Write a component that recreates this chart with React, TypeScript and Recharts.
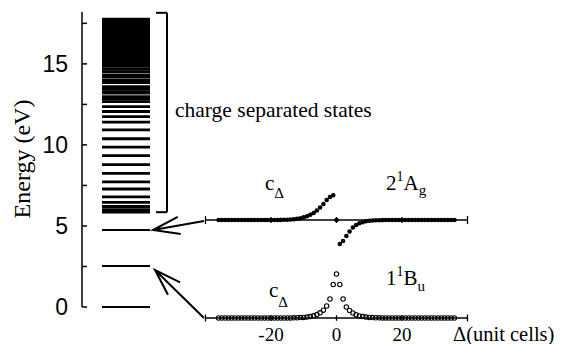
import React from 'react';
import {
  ScatterChart,
  Scatter,
  XAxis,
  YAxis,
  ReferenceLine,
  ReferenceArea,
} from 'recharts';

// ---------- data ----------
const energyTicks = [0, 2.5, 5, 7.5, 10, 12.5, 15, 17.5];
const boundLevels = [0, 2.53, 4.75];
const chargeSeparatedLevels = [
  5.85, 6.0, 6.2, 6.45, 6.8, 7.28, 7.72, 8.25, 8.78, 9.34, 9.86, 10.38, 10.93,
  11.4, 11.75, 12.06, 12.36, 12.67, 12.82, 12.98, 13.19, 13.29, 13.44, 13.6,
  13.85, 14.0, 14.18, 14.32, 14.52, 14.67, 14.84,
];
const continuumBand = [14.9, 17.85];
const bracketRange = [5.85, 18.15];

const deltaCells = [
  -36, -35, -34, -33, -32, -31, -30, -29, -28, -27, -26, -25, -24, -23, -22, -21,
  -20, -19, -18, -17, -16, -15, -14, -13, -12, -11, -10, -9, -8, -7, -6, -5, -4,
  -3, -2, -1, 0, 1, 2, 3, 4, 5, 6, 7, 8, 9, 10, 11, 12, 13, 14, 15, 16, 17, 18,
  19, 20, 21, 22, 23, 24, 25, 26, 27, 28, 29, 30, 31, 32, 33, 34, 35, 36,
];
// 2^1A_g amplitude
const cAg = [
  0, 0, 0, 0, 0, 0, 0, 0, 0, 0, 0, 0, 0, 0, 0, 0, 0, 0,
  0.0005, 0.001, 0.002, 0.003, 0.005, 0.008, 0.012, 0.018, 0.027, 0.038, 0.052,
  0.07, 0.095, 0.125, 0.16, 0.2, 0.23, 0.247,
  0,
  -0.24, -0.21, -0.16, -0.115, -0.075, -0.05, -0.033, -0.022, -0.013, -0.008,
  -0.005, -0.003, -0.002, -0.001,
  0, 0, 0, 0, 0, 0, 0, 0, 0, 0, 0, 0, 0, 0, 0, 0, 0, 0, 0, 0, 0, 0,
];
// 1^1B_u amplitude
const cBu = [
  0, 0, 0, 0, 0, 0, 0, 0, 0, 0, 0, 0, 0, 0, 0, 0, 0, 0, 0, 0, 0,
  0.0005, 0.001, 0.0015, 0.0025, 0.004, 0.006, 0.009, 0.014, 0.022, 0.034,
  0.052, 0.078, 0.12, 0.19, 0.335,
  0.44,
  0.335, 0.19, 0.11, 0.075, 0.05, 0.033, 0.021, 0.014, 0.009, 0.006, 0.004,
  0.0025, 0.0015, 0.001, 0.0005,
  0, 0, 0, 0, 0, 0, 0, 0, 0, 0, 0, 0, 0, 0, 0, 0, 0, 0, 0, 0, 0,
];
const deltaTicks = [-40, -20, 0, 20, 40];
const deltaTickLabels = ['', '-20', '0', '20', ''];

// ---------- layout constants ----------
const SERIF = 'Liberation Serif, Times New Roman, serif';
const SANS = 'Liberation Sans, Arial, sans-serif';
const LEVEL_CENTER = 44; // horizontal slot of the level ladder (in hidden x units)
const LEVEL_HALF = 24;
const BRACKET_X: [number, number] = [74, 85];

const boundData = boundLevels.map((e) => ({ pos: LEVEL_CENTER, energy: e }));
const csData = chargeSeparatedLevels.map((e) => ({ pos: LEVEL_CENTER, energy: e }));
const agData = deltaCells.map((d, i) => ({ delta: d, c: cAg[i] }));
const buData = deltaCells.map((d, i) => ({ delta: d, c: cBu[i] }));

const EnergyTick = (props: any) => {
  const { x, y, payload } = props;
  const v = payload.value;
  const axisX = x + 14;
  return (
    <g>
      <line x1={axisX} x2={axisX + 5} y1={y} y2={y} stroke="#000" strokeWidth={1.5} />
      {v % 5 === 0 && (
        <text x={x} y={y} dy="0.36em" textAnchor="end" fontFamily={SANS} fontSize={23} fill="#000">
          {v}
        </text>
      )}
    </g>
  );
};

const DeltaTick = (props: any) => {
  const { x, y, payload } = props;
  const v = payload.value;
  const idx = deltaTicks.indexOf(v);
  const end = idx === 0 || idx === deltaTicks.length - 1;
  const h = end ? 3.5 : 2.8;
  const label = deltaTickLabels[idx];
  return (
    <g>
      <line x1={x} x2={x} y1={y - h} y2={y + h} stroke="#000" strokeWidth={1.3} />
      {label && (
        <text x={x} y={y + 23} textAnchor="middle" fontFamily={SERIF} fontSize={19} fill="#000">
          {label}
        </text>
      )}
    </g>
  );
};

const thinLevel = (p: any) => (
  <line x1={p.cx - LEVEL_HALF} x2={p.cx + LEVEL_HALF} y1={p.cy} y2={p.cy} stroke="#000" strokeWidth={1.8} />
);
const thickLevel = (p: any) => (
  <line x1={p.cx - LEVEL_HALF} x2={p.cx + LEVEL_HALF} y1={p.cy} y2={p.cy} stroke="#000" strokeWidth={2.8} />
);
const filledDot = (p: any) => <circle cx={p.cx} cy={p.cy} r={2.3} fill="#000" />;
const openDot = (p: any) => (
  <circle cx={p.cx} cy={p.cy} r={2.2} fill="none" stroke="#000" strokeWidth={1.1} />
);

function arrowPath(tip: [number, number], tail: [number, number], len: number, angDeg: number) {
  const dx = tail[0] - tip[0];
  const dy = tail[1] - tip[1];
  const L = Math.hypot(dx, dy);
  const ux = dx / L;
  const uy = dy / L;
  const a = (angDeg * Math.PI) / 180;
  const r = (s: number) => [
    tip[0] + len * (ux * Math.cos(s * a) - uy * Math.sin(s * a)),
    tip[1] + len * (ux * Math.sin(s * a) + uy * Math.cos(s * a)),
  ];
  const b1 = r(1);
  const b2 = r(-1);
  return `M${tail[0]},${tail[1]} L${tip[0]},${tip[1]} M${b1[0]},${b1[1]} L${tip[0]},${tip[1]} L${b2[0]},${b2[1]}`;
}

const abs: React.CSSProperties = { position: 'absolute', left: 0, top: 0 };

export default function App() {
  return (
    <div style={{ position: 'absolute', left: 0, top: 0, width: 580, height: 344, background: '#fff', overflow: 'hidden' }}>
      {/* Left: energy levels */}
      <div style={abs}>
        <ScatterChart width={200} height={344} margin={{ top: 12, right: 0, bottom: 37, left: 0 }}>
          <XAxis type="number" dataKey="pos" domain={[0, 118]} hide />
          <YAxis
            type="number"
            dataKey="energy"
            domain={[0, 18.2]}
            ticks={energyTicks}
            interval={0}
            width={82}
            tickSize={0}
            tickMargin={14}
            tickLine={false}
            axisLine={{ stroke: '#000', strokeWidth: 1.5 }}
            tick={<EnergyTick />}
          />
          <ReferenceArea
            x1={LEVEL_CENTER - LEVEL_HALF}
            x2={LEVEL_CENTER + LEVEL_HALF}
            y1={continuumBand[0]}
            y2={continuumBand[1]}
            fill="#000"
            fillOpacity={1}
            stroke="none"
          />
          <ReferenceLine segment={[{ x: BRACKET_X[1], y: bracketRange[0] }, { x: BRACKET_X[1], y: bracketRange[1] }]} stroke="#000" strokeWidth={2} />
          <ReferenceLine segment={[{ x: BRACKET_X[0], y: bracketRange[0] }, { x: BRACKET_X[1], y: bracketRange[0] }]} stroke="#000" strokeWidth={2} />
          <ReferenceLine segment={[{ x: BRACKET_X[0], y: bracketRange[1] }, { x: BRACKET_X[1], y: bracketRange[1] }]} stroke="#000" strokeWidth={2} />
          <Scatter data={boundData} shape={thinLevel} isAnimationActive={false} />
          <Scatter data={csData} shape={thickLevel} isAnimationActive={false} />
        </ScatterChart>
      </div>

      {/* Upper right: 2^1A_g */}
      <div style={abs}>
        <ScatterChart width={580} height={344} margin={{ top: 190, right: 112.5, bottom: 94, left: 205.5 }}>
          <XAxis type="number" dataKey="delta" domain={[-40, 40]} hide />
          <YAxis type="number" dataKey="c" domain={[-0.3, 0.3]} hide />
          <ReferenceLine y={0} stroke="#000" strokeWidth={1.3} />
          {deltaTicks.map((t, i) => {
            const h = i === 0 || i === deltaTicks.length - 1 ? 0.04 : 0.03;
            return (
              <ReferenceLine key={'t' + t} segment={[{ x: t, y: -h }, { x: t, y: h }]} stroke="#000" strokeWidth={1.3} />
            );
          })}
          <Scatter data={agData} shape={filledDot} isAnimationActive={false} />
        </ScatterChart>
      </div>

      {/* Lower right: 1^1B_u */}
      <div style={abs}>
        <ScatterChart width={580} height={344} margin={{ top: 268, right: 112.5, bottom: 0, left: 205.5 }}>
          <XAxis
            type="number"
            dataKey="delta"
            domain={[-40, 40]}
            ticks={deltaTicks}
            interval={0}
            height={26}
            tickSize={0}
            tickMargin={0}
            tickLine={false}
            axisLine={{ stroke: '#000', strokeWidth: 1.3 }}
            tick={<DeltaTick />}
          />
          <YAxis type="number" dataKey="c" domain={[0, 0.5]} hide />
          <Scatter data={buData} shape={openDot} isAnimationActive={false} />
        </ScatterChart>
      </div>

      {/* Annotations */}
      <svg width={580} height={344} style={{ ...abs, pointerEvents: 'none' }}>
        <text
          x={29.5}
          y={159}
          transform="rotate(-90 29.5 159)"
          textAnchor="middle"
          fontFamily={SERIF}
          fontSize={24}
          fill="#000"
        >
          Energy (eV)
        </text>
        <text x={175} y={117} fontFamily={SERIF} fontSize={21.5} fill="#000">
          charge separated states
        </text>
        <path d={arrowPath([153, 230], [204, 221], 28, 18)} stroke="#000" strokeWidth={2} fill="none" />
        <path d={arrowPath([155, 270], [204, 318], 28, 18)} stroke="#000" strokeWidth={2} fill="none" />

        <text x={265} y={190} fontFamily={SERIF} fontSize={21} fill="#000">
          c<tspan fontSize={15} dy={8}>Δ</tspan>
        </text>
        <text x={386} y={190} fontFamily={SERIF} fontSize={21} fill="#000">
          2<tspan fontSize={14} dy={-9}>1</tspan>
          <tspan dy={9}>A</tspan>
          <tspan fontSize={15} dy={5}>g</tspan>
        </text>

        <text x={269} y={297} fontFamily={SERIF} fontSize={21} fill="#000">
          c<tspan fontSize={15} dy={10}>Δ</tspan>
        </text>
        <text x={386} y={285} fontFamily={SERIF} fontSize={21} fill="#000">
          1<tspan fontSize={14} dy={-9}>1</tspan>
          <tspan dy={9}>B</tspan>
          <tspan fontSize={15} dy={6}>u</tspan>
        </text>

        <text x={453} y={341} fontFamily={SERIF} fontSize={20.5} fill="#000">
          Δ(unit cells)
        </text>
      </svg>
    </div>
  );
}
